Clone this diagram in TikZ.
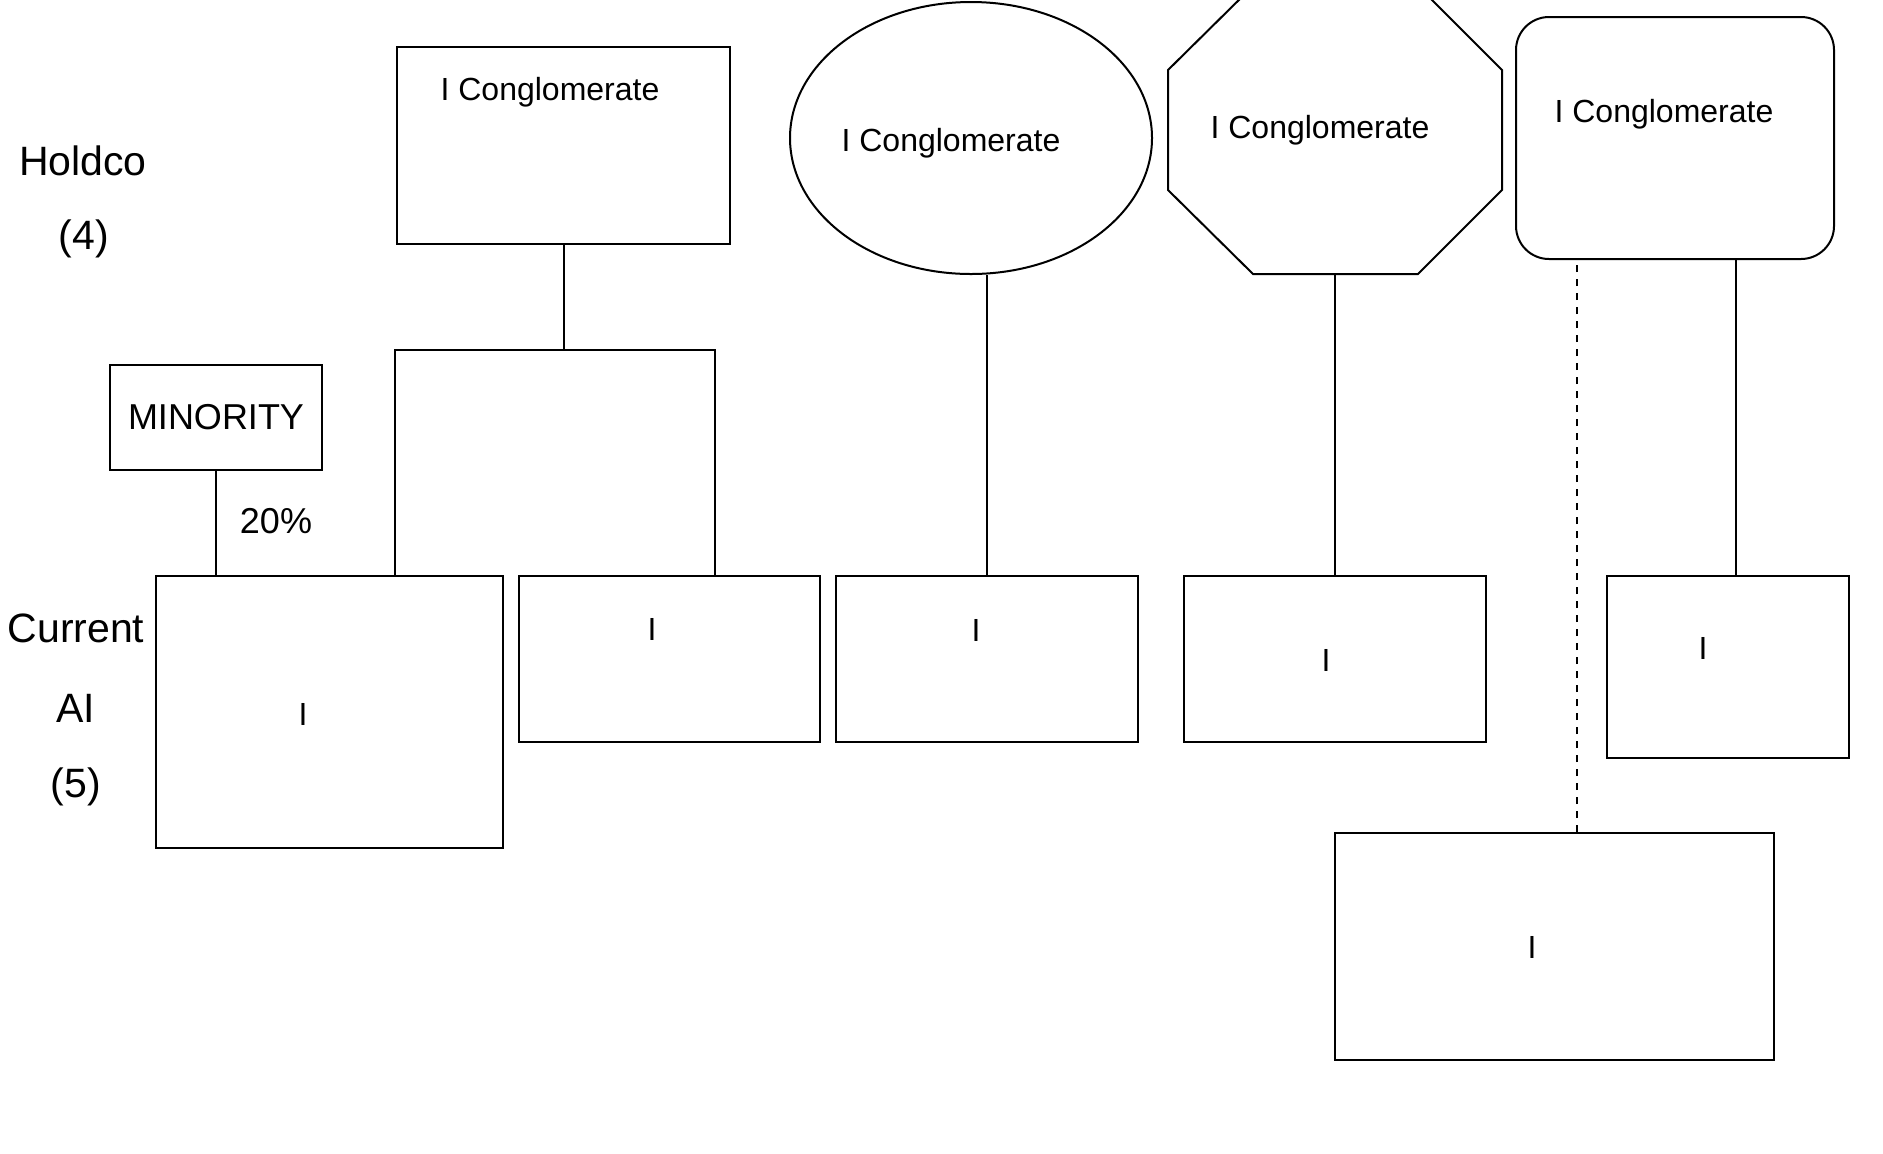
\documentclass[tikz,border=0pt]{standalone}
\usepackage{fontspec}
\setmainfont{Liberation Sans}
\usetikzlibrary{shapes.geometric,calc}

\begin{document}
\begin{tikzpicture}[x=0.5pt,y=-0.5pt,line width=1pt,
	box/.style={draw,rectangle,inner sep=0pt},
	txt/.style={font=\fontsize{16}{19}\selectfont,anchor=base,inner sep=0pt},
	big/.style={font=\fontsize{18}{21}\selectfont,inner sep=0pt},
	side/.style={font=\fontsize{20.5}{24}\selectfont,anchor=base,inner sep=0pt},
	dashline/.style={dash pattern=on 3.5pt off 3.5pt}]
	\useasboundingbox (0,0) rectangle (1883,1153);

	\node[side] (holdco) at (83,175) {Holdco};
	\node[side] (n4) at (84,249) {(4)};
	\node[side] (current) at (76,642) {Current};
	\node[side] (ai) at (76,722) {AI};
	\node[side] (n5) at (76,797) {(5)};

	\node[box,minimum width=166.5pt,minimum height=98.5pt] (c1) at (563.5,145.5) {};
	\node[draw,ellipse,inner sep=0pt,minimum width=181pt,minimum height=136pt] (c2) at (971,138) {};
	\draw (1168,70) -- (1253,-14) -- (1418,-14) -- (1502,70) -- (1502,190) -- (1418,274) -- (1253,274) -- (1168,190) -- cycle;
	\coordinate (c3) at (1335,274);
	\node[box,rounded corners=16.5pt,minimum width=159pt,minimum height=121pt] (c4) at (1675,138) {};
	\node[txt] (t1) at (550,100) {I Conglomerate};
	\node[txt] (t2) at (951,151.5) {I Conglomerate};
	\node[txt] (t3) at (1320,138.5) {I Conglomerate};
	\node[txt] (t4) at (1664,122.5) {I Conglomerate};

	\node[box,big,minimum width=106pt,minimum height=52.5pt] (m) at (216,417.5) {MINORITY};
	\node[big,anchor=base] (pct) at (276,533) {20\%};

	\node[box,minimum width=173.5pt,minimum height=136pt] (a1) at (329.5,712) {};
	\node[box,minimum width=150.5pt,minimum height=83pt] (a2) at (669.5,659) {};
	\node[box,minimum width=151pt,minimum height=83pt] (a3) at (987,659) {};
	\node[box,minimum width=151pt,minimum height=83pt] (a4) at (1335,659) {};
	\node[box,minimum width=121pt,minimum height=91pt] (a5) at (1728,667) {};
	\node[box,minimum width=219.5pt,minimum height=113.5pt] (a6) at (1554.5,946.5) {};
	\node[txt] (i1) at (303,725) {I};
	\node[txt] (i2) at (652,640) {I};
	\node[txt] (i3) at (976,641.5) {I};
	\node[txt] (i4) at (1326,671) {I};
	\node[txt] (i5) at (1703,659) {I};
	\node[txt] (i6) at (1532,958) {I};

	\coordinate (split) at (563.5,350);
	\draw (c1.south) -- (split);
	\draw ($(a1.north west)+(240,0)$) |- (split) -| ($(a2.north west)+(197,0)$);
	\draw (m.south) -- (m.south |- a1.north);
	\draw (c2.south -| a3.north) -- (a3.north);
	\draw (c3) -- (a4.north);
	\draw ([xshift=4pt]a5.north) -- ([xshift=4pt]a5.north |- c4.south);
	\draw[dashline] ([xshift=11.25pt]a6.north) -- ([xshift=11.25pt]a6.north |- c4.south);
\end{tikzpicture}
\end{document}
